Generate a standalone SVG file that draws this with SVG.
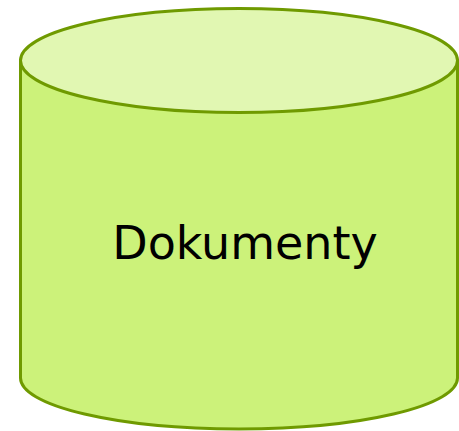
<svg xmlns="http://www.w3.org/2000/svg" width="459" height="431" viewBox="0 0 459 431">
<style>
.body{fill:#ccf27a;stroke:#6f9a00;stroke-width:3}
.top{fill:#e1f7b2;stroke:#6f9a00;stroke-width:3}
.label{font-family:"DejaVu Sans",sans-serif;font-size:46px;fill:#000;text-anchor:middle}
</style>
<g id="dokumenty">
<path class="body" d="M20.5,60.5 L20.5,378 A218.5,51 0 0 0 457.5,378 L457.5,60.5 Z"/>
<ellipse class="top" cx="239" cy="60.5" rx="218.5" ry="52"/>
<text class="label" x="245" y="259">Dokumenty</text>
</g>
</svg>
